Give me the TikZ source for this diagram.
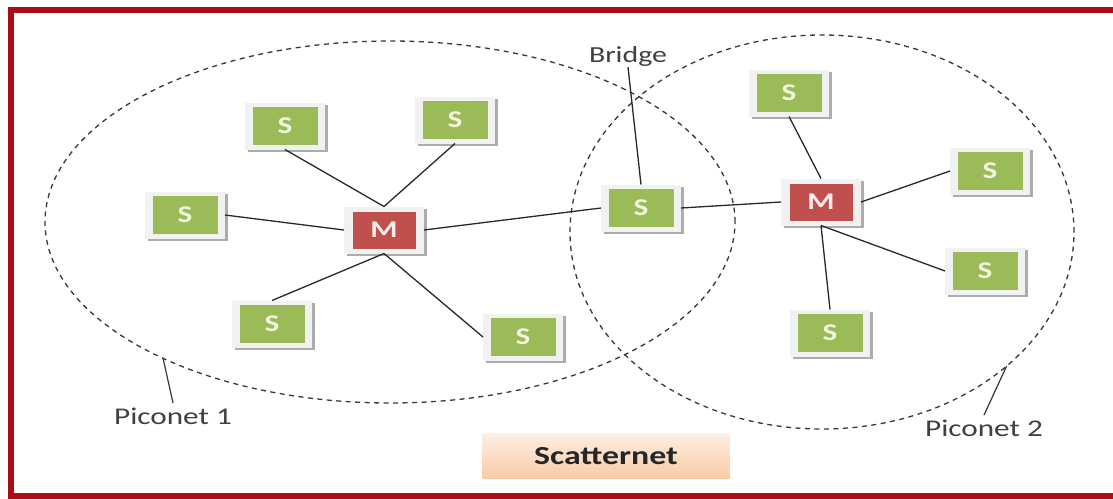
\documentclass[tikz,border=0pt]{standalone}
\usepackage{fontspec}
\setmainfont{Carlito}
\usetikzlibrary{shapes.geometric,shadows,calc}

\definecolor{framered}{RGB}{168,14,20}
\definecolor{sgreen}{RGB}{155,187,89}
\definecolor{mred}{RGB}{192,80,77}
\definecolor{scream}{RGB}{242,246,222}
\definecolor{mcream}{RGB}{250,236,236}
\definecolor{tilegray}{RGB}{241,241,241}
\definecolor{tileshadow}{RGB}{172,172,172}
\definecolor{inkgray}{RGB}{64,64,64}
\definecolor{linkgray}{RGB}{40,40,40}
\definecolor{dashgray}{RGB}{55,55,55}
\definecolor{peach}{RGB}{249,202,165}

% horizontally widened lettering
\newcommand{\wide}[1]{\scalebox{1.3}[1]{#1}}

\begin{document}
\begin{tikzpicture}[x=1pt,y=-1pt,
  tile/.style={fill=tilegray, minimum width=80pt, minimum height=47pt,
    inner sep=0pt, outer sep=0pt,
    drop shadow={shadow xshift=2.5pt, shadow yshift=-2.5pt, fill=tileshadow, opacity=1},
    font=\fontsize{24}{24}\selectfont\bfseries},
  slave/.style={tile, text=scream,
    path picture={\fill[sgreen]
      ($(path picture bounding box.center)+(-32.5pt,-19pt)$) rectangle
      ($(path picture bounding box.center)+(32.5pt,19pt)$);}},
  master/.style={tile, text=mcream,
    path picture={\fill[mred]
      ($(path picture bounding box.center)+(-31.5pt,-18.5pt)$) rectangle
      ($(path picture bounding box.center)+(31.5pt,18.5pt)$);}},
  link/.style={draw=linkgray, line width=1.3pt},
  piconet/.style={ellipse, draw=dashgray, dash pattern=on 5pt off 4.5pt,
    line width=1.3pt, inner sep=0pt, outer sep=0pt},
  tag/.style={text=inkgray, font=\fontsize{24}{24}\selectfont, inner sep=1pt},
  pointer/.style={draw=dashgray, line width=1.2pt}
]
\useasboundingbox (0,0) rectangle (1113,498);
\fill[white] (0,0) rectangle (1113,498);

% outer frame
\draw[framered, line width=6pt] (11,9.5) rectangle (1116,495.5);

% the two piconets
\node[piconet, minimum width=690pt, minimum height=362pt] (p1) at (390,222) {};
\node[piconet, minimum width=504pt, minimum height=394pt] (p2) at (822,232) {};

% piconet 1
\node[master] (m1)  at (384,230) {\wide{M}};
\node[slave]  (s1)  at (285,126) {\wide{S}};
\node[slave]  (s2)  at (455,120) {\wide{S}};
\node[slave]  (s3)  at (185,215) {\wide{S}};
\node[slave]  (s4)  at (272,324) {\wide{S}};
\node[slave]  (s5)  at (523,337) {\wide{S}};

% bridge slave shared by both piconets
\node[slave]  (br)  at (641,208) {\wide{S}};

% piconet 2
\node[master] (m2)  at (821,202) {\wide{M}};
\node[slave]  (st)  at (789,93)  {\wide{S}};
\node[slave]  (sru) at (990,171) {\wide{S}};
\node[slave]  (srl) at (985,271) {\wide{S}};
\node[slave]  (sb)  at (830,333) {\wide{S}};

% links
\draw[link] (s1.south) -- (m1.north);
\draw[link] (s2.south) -- (m1.north);
\draw[link] (s3.east)  -- (m1.west);
\draw[link] (m1.east)  -- (br.west);
\draw[link] (m1.south) -- (s4.north);
\draw[link] (m1.south) -- (s5.west);
\draw[link] (br.east)  -- (m2.west);
\draw[link] (st.south) -- (m2.north);
\draw[link] (m2.east)  -- (sru.west);
\draw[link] (m2.south) -- (srl.west);
\draw[link] (m2.south) -- (sb.north);

% labels
\node[tag, font=\fontsize{23}{23}\selectfont] (bl) at (628,56) {\wide{Bridge}};
\draw[link] (bl.south) -- (br.north);

\node[tag, anchor=north, outer sep=4pt] (t1) at (173,403) {\wide{Piconet 1}};
\draw[pointer] (p1.211) -- (t1.north);

\node[tag, anchor=north, outer sep=4pt] (t2) at (984,415) {\wide{Piconet 2}};
\draw[pointer] (p2.-36) -- (t2.north);

\node[minimum width=247pt, minimum height=45pt, top color=peach!30!white,
  bottom color=peach, text=black!85,
  font=\fontsize{26}{26}\selectfont\bfseries] (sc) at (606,456) {\wide{Scatternet}};
\end{tikzpicture}
\end{document}
